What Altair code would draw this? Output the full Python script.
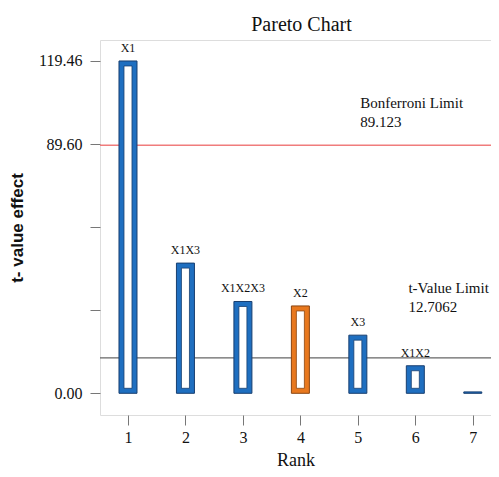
import altair as alt
import pandas as pd

ranks = [1, 2, 3, 4, 5, 6, 7]
terms = ["X1", "X1X3", "X1X2X3", "X2", "X3", "X1X2", ""]
t_values = [119.46, 46.8, 33.0, 31.4, 20.9, 9.9, 0.5]

y_ticks = [0, 29.87, 59.73, 89.6, 119.46]
bonferroni = 89.123
t_limit = 12.7062

ann_text = ["Bonferroni Limit\n89.123", "t-Value Limit\n12.7062"]
ann_x = [5.04, 5.88]
ann_y = [102.6, 36.1]

df = pd.DataFrame({"rank": ranks, "term": terms, "t": t_values})
ann = pd.DataFrame({"text": ann_text, "x": ann_x, "y": ann_y})

SERIF = "Liberation Serif"
BLUE = "#1f6fc0"
ORANGE = "#e8781e"

xs = alt.Scale(domain=[0.6, 7.23], nice=False, zero=False)
ys = alt.Scale(domain=[-7.8, 127.0], nice=False, zero=False)

x_axis = alt.Axis(values=ranks, format="d", domain=False, grid=False, tickSize=10, tickColor="#777",
                  labelFont=SERIF, labelFontSize=16, labelColor="#111", labelPadding=4,
                  title="Rank", titleFont=SERIF, titleFontSize=18, titleFontWeight="normal",
                  titleColor="#111", titlePadding=6)
y_axis = alt.Axis(values=y_ticks, domain=False, grid=False, tickSize=10, tickColor="#777",
                  labelExpr="(datum.value < 1 || datum.value > 80) ? format(datum.value, '.2f') : ''",
                  labelFont=SERIF, labelFontSize=16, labelColor="#111", labelPadding=8,
                  title="t- value effect", titleFont="Liberation Sans", titleFontSize=17,
                  titleFontWeight="bold", titleColor="#111", titlePadding=12)

base = alt.Chart(df)

rule_b = alt.Chart(pd.DataFrame({"v": [bonferroni]})).mark_rule(color="#f07c7c", strokeWidth=1.5).encode(
    y=alt.Y("v:Q", scale=ys, axis=y_axis))
rule_t = alt.Chart(pd.DataFrame({"v": [t_limit]})).mark_rule(color="#666666", strokeWidth=1.3).encode(
    y=alt.Y("v:Q", scale=ys))

outer = base.mark_bar(size=18, strokeWidth=1).encode(
    x=alt.X("rank:Q", scale=xs, axis=x_axis),
    y=alt.Y("t:Q", scale=ys, axis=y_axis),
    y2=alt.datum(0),
    color=alt.condition(alt.datum.term == "X2", alt.value(ORANGE), alt.value(BLUE)),
    stroke=alt.condition(alt.datum.term == "X2", alt.value("#8a4510"), alt.value("#183f70")),
)
inner = base.transform_filter(alt.datum.t > 4).mark_bar(
    size=8, fill="white", strokeWidth=0.8, yOffset=5, y2Offset=-5).encode(
    x=alt.X("rank:Q", scale=xs),
    y=alt.Y("t:Q", scale=ys),
    y2=alt.datum(0),
    stroke=alt.condition(alt.datum.term == "X2", alt.value("#8a4510"), alt.value("#183f70")),
)
labels = base.mark_text(font=SERIF, fontSize=12, baseline="bottom", dy=-6, color="#111").encode(
    x=alt.X("rank:Q", scale=xs),
    y=alt.Y("t:Q", scale=ys),
    text="term:N",
)
annot = alt.Chart(ann).mark_text(font=SERIF, fontSize=15, align="left", baseline="alphabetic",
                                 lineBreak="\n", lineHeight=19, color="#111").encode(
    x=alt.X("x:Q", scale=xs),
    y=alt.Y("y:Q", scale=ys),
    text="text:N",
)

chart = alt.layer(rule_b, rule_t, outer, inner, labels, annot).properties(
    width=391, height=375,
    title=alt.TitleParams("Pareto Chart", font=SERIF, fontSize=20, fontWeight="normal",
                          color="#111", anchor="middle", offset=5, dx=6),
    autosize=alt.AutoSizeParams(type="none"),
    padding={"left": 92, "top": 32, "right": 0, "bottom": 54},
).configure_view(stroke="#999999", strokeWidth=1.5).configure(background="white")

chart.save("out.html", embed_options={"renderer": "svg", "actions": False})
